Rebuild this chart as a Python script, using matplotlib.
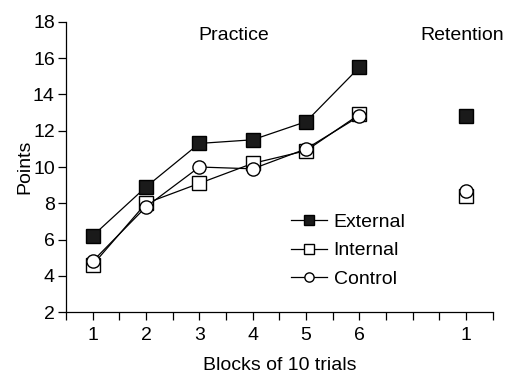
import numpy as np
import matplotlib.pyplot as plt

plt.rcParams['font.family'] = ['Liberation Sans', 'DejaVu Sans']

blocks = [1, 2, 3, 4, 5, 6]
retention_x = 8
external = [6.2, 8.9, 11.3, 11.5, 12.5, 15.5]
internal = [4.6, 8.0, 9.1, 10.2, 10.9, 12.9]
control = [4.8, 7.8, 10.0, 9.9, 11.0, 12.8]
external_ret = 12.8
internal_ret = 8.4
control_ret = 8.7
tick_labels = ['1', '2', '3', '4', '5', '6', '1']

fig = plt.figure(figsize=(5.15, 3.77), dpi=100)
ax = fig.add_axes([0.128, 0.172, 0.829, 0.770])

lw = 0.9
ms = 9.5
fs = 14
ax.plot(blocks, external, color='black', lw=lw, marker='s', ms=ms,
        mfc='#1a1a1a', mec='black', label='External', zorder=3)
ax.plot(blocks, internal, color='black', lw=lw, marker='s', ms=ms,
        mfc='white', mec='black', mew=1.0, label='Internal', zorder=4)
ax.plot(blocks, control, color='black', lw=lw, marker='o', ms=ms,
        mfc='white', mec='black', mew=1.0, label='Control', zorder=5)

ax.plot([retention_x], [external_ret], ls='none', marker='s', ms=ms,
        mfc='#1a1a1a', mec='black', zorder=3)
ax.plot([retention_x], [internal_ret], ls='none', marker='s', ms=ms,
        mfc='white', mec='black', mew=1.0, zorder=4)
ax.plot([retention_x], [control_ret], ls='none', marker='o', ms=ms,
        mfc='white', mec='black', mew=1.0, zorder=5)

ax.set_xlim(0.5, 8.5)
ax.set_ylim(2, 18)
ax.set_xticks(np.arange(0.5, 8.51, 0.5), minor=True)
ax.set_xticks(blocks + [retention_x])
ax.set_xticklabels(tick_labels)
ax.set_yticks(np.arange(2, 19, 2))
ax.tick_params(axis='both', which='both', direction='out', length=6,
               width=0.9, labelsize=fs)
ax.tick_params(axis='x', pad=5)
ax.tick_params(axis='y', pad=2)

for s in ['top', 'right']:
    ax.spines[s].set_visible(False)
for s in ['left', 'bottom']:
    ax.spines[s].set_linewidth(0.9)

ax.set_xlabel('Blocks of 10 trials', fontsize=fs, labelpad=9)
ax.set_ylabel('Points', fontsize=fs, labelpad=0)

ax.text(3.65, 17.25, 'Practice', fontsize=fs, ha='center', va='center')
ax.text(7.92, 17.25, 'Retention', fontsize=fs, ha='center', va='center')

ax.legend(loc='upper left', bbox_to_anchor=(0.527, 0.34), frameon=False,
          fontsize=fs, handlelength=1.85, handletextpad=0.35,
          labelspacing=0.55, markerscale=0.7, borderpad=0, borderaxespad=0)

fig.savefig('out.png', dpi=100)
